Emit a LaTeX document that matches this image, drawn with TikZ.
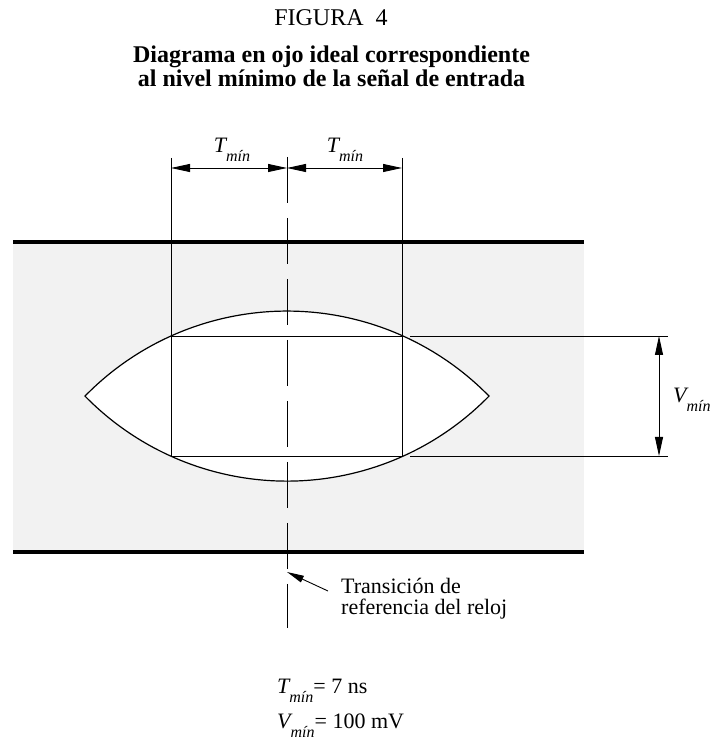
\documentclass[tikz,border=0pt]{standalone}
\usepackage{fontspec}
\setmainfont{Liberation Serif}
\usetikzlibrary{arrows.meta}
\definecolor{bandgray}{HTML}{F2F2F2}
\newcommand{\mysubmin}{\raisebox{-9pt}{\fontsize{16}{16}\selectfont\itshape mín}}
\newcommand{\myTmin}{{\itshape T\mysubmin}}
\newcommand{\myVmin}{{\itshape V\mysubmin}}
\begin{document}
\begin{tikzpicture}[x=1pt,y=1pt,
  thinline/.style={line width=0.9pt},
  thickline/.style={line width=3.5pt},
  eyeline/.style={line width=1.2pt},
  dimarrow/.style={line width=0.9pt,{Triangle[length=19pt,width=8pt]}-{Triangle[length=19pt,width=8pt]}},
  txt/.style={font=\fontsize{22}{22}\selectfont, inner sep=0pt},
  ttl/.style={font=\fontsize{24}{24}\selectfont, inner sep=0pt, anchor=base},
  ttlb/.style={font=\fontsize{24}{24}\selectfont\bfseries, inner sep=0pt, anchor=base},
 ]
\useasboundingbox (0,0) rectangle (714,742);
% band
\coordinate (bandTL) at (13,500);
\coordinate (bandTR) at (584,500);
\coordinate (bandBL) at (13,190);
\coordinate (bandBR) at (584,190);
\fill[bandgray] (bandBL) rectangle (bandTR);
\draw[thickline] (bandTL) -- (bandTR);
\draw[thickline] (bandBL) -- (bandBR);
% eye
\coordinate (eyeL) at (85,345.9);
\filldraw[fill=white, eyeline] (eyeL) arc[start angle=135.65,end angle=44.35,radius=282.5pt]
  arc[start angle=-44.35,end angle=-135.65,radius=282.5pt] -- cycle;
% rectangle
\coordinate (rTL) at (171,406);
\coordinate (rTR) at (402,406);
\coordinate (rBL) at (171,286);
\coordinate (rBR) at (402,286);
\draw[thinline] (rBL) rectangle (rTR);
% extension lines
\coordinate (extL) at (171,584);
\coordinate (extR) at (402,584);
\draw[thinline] (extL) -- (rTL);
\draw[thinline] (extR) -- (rTR);
% center dashed line
\coordinate (ctop) at (287,585);
\coordinate (cbot) at (287,114);
\draw[thinline, dash pattern=on 46pt off 15pt] (ctop) -- (cbot);
% top dimension arrows
\coordinate (dL) at (171,574);
\coordinate (dC) at (287,574);
\coordinate (dR) at (402,574);
\draw[dimarrow] (dL) -- (dC);
\draw[dimarrow] (dC) -- (dR);
\node[txt, anchor=base] (tlabL) at (232,589) {\myTmin};
\node[txt, anchor=base] (tlabR) at (345,589) {\myTmin};
% right dimension
\coordinate (vT0) at (410,406);
\coordinate (vT1) at (668,406);
\coordinate (vB0) at (410,286);
\coordinate (vB1) at (668,286);
\draw[thinline] (vT0) -- (vT1);
\draw[thinline] (vB0) -- (vB1);
\coordinate (vA) at (659,406);
\coordinate (vB) at (659,286);
\draw[dimarrow] (vA) -- (vB);
\node[txt, anchor=base west] (vlab) at (673,339) {\myVmin};
% clock reference arrow
\coordinate (ctail) at (328,151);
\coordinate (ctip) at (287,170);
\draw[thinline, -{Triangle[length=17pt,width=7pt]}] (ctail) -- (ctip);
\node[font=\fontsize{22}{21}\selectfont, inner sep=0pt, align=left, anchor=base west] (clk) at (341,127.5)
  {Transición de\\referencia del reloj};
% bottom values
\node[txt, anchor=base west] (valT) at (277,48) {\myTmin= 7 ns};
\node[txt, anchor=base west] (valV) at (277,13) {\myVmin= 100 mV};
% title
\node[ttl] (fig) at (331,716) {FIGURA\ \ 4};
\node[ttlb] (tit1) at (331.5,679) {Diagrama en ojo ideal correspondiente};
\node[ttlb] (tit2) at (331.5,655) {al nivel mínimo de la señal de entrada};
\end{tikzpicture}
\end{document}
